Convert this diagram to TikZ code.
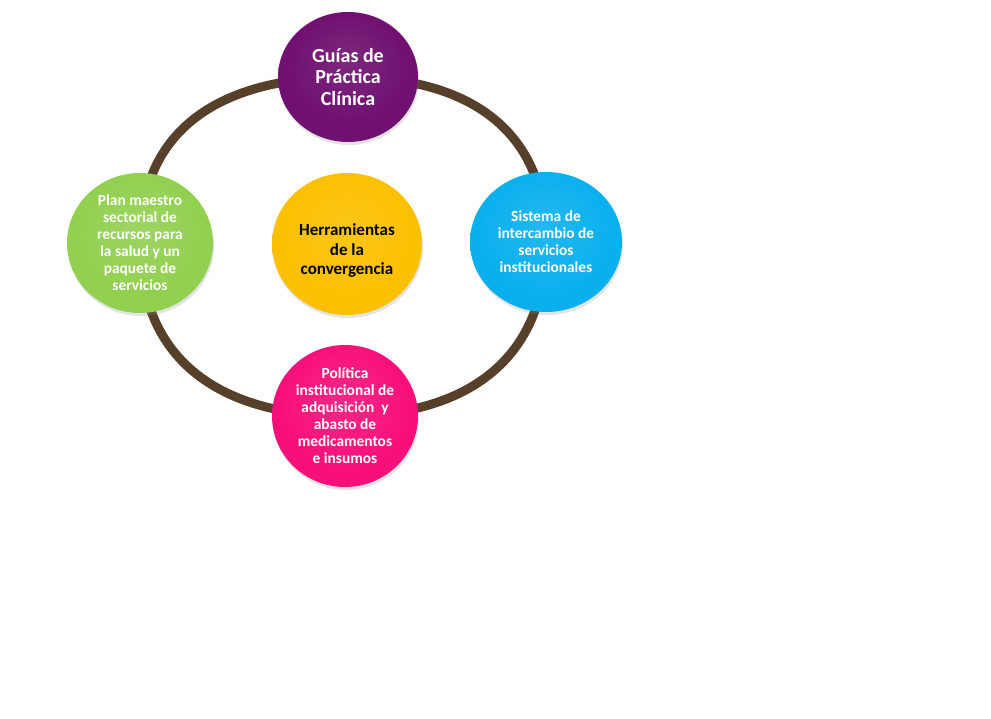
\documentclass[tikz,border=0pt]{standalone}
\usepackage{fontspec}
\setmainfont{Carlito}
\usetikzlibrary{shapes.geometric,shadows,backgrounds}
\definecolor{cpurple}{HTML}{701070}
\definecolor{cgreen}{HTML}{92D050}
\definecolor{ccyan}{HTML}{0AB0EE}
\definecolor{cpink}{HTML}{F8107A}
\definecolor{cyellow}{HTML}{FBC000}
\definecolor{cring}{HTML}{56402A}
\colorlet{orbcol}{cpurple}
\pgfdeclareradialshading[orbcol]{orb}{\pgfpoint{0bp}{6bp}}{color(0bp)=(orbcol!90!white); color(22bp)=(orbcol); color(40bp)=(orbcol); color(50bp)=(orbcol!85!black)}
\tikzset{
  fillc/.style={/utils/exec={\colorlet{orbcol}{#1}}},
  bubble/.style={ellipse, inner sep=0pt, align=center, text=white,
    shading=orb, drop shadow={opacity=0.22, shadow xshift=1pt, shadow yshift=-3pt}},
  ringline/.style={line width=9pt, draw=cring},
  smalltext/.style={font=\bfseries\fontsize{15.4}{17}\selectfont}
}
\begin{document}
\begin{tikzpicture}[x=1pt,y=1pt]
\useasboundingbox (0,0) rectangle (991,-718);
\node[bubble, fillc=cpurple, minimum width=140pt, minimum height=130pt,
  font=\bfseries\fontsize{20}{21.5}\selectfont] (top) at (348,-77) {Guías de\\Práctica\\Clínica};
\node[bubble, fillc=cgreen, minimum width=146pt, minimum height=140pt, smalltext] (left) at (140,-243)
  {Plan maestro\\sectorial de\\recursos para\\la salud y un\\paquete de\\servicios};
\node[bubble, fillc=ccyan, minimum width=152pt, minimum height=140pt, smalltext] (right) at (546,-242)
  {Sistema de\\intercambio de\\servicios\\institucionales};
\node[bubble, fillc=cpink, minimum width=146pt, minimum height=142pt, smalltext] (bottom) at (345,-416)
  {Política\\institucional de\\adquisición\ \ y\\abasto de\\medicamentos\\e insumos};
\node[bubble, fillc=cyellow, minimum width=150pt, minimum height=142pt, text=black,
  font=\bfseries\fontsize{17}{19.7}\selectfont] (hub) at (347,-244)
  {\rule{0pt}{25pt}Herramientas\\de la\\convergencia};
\begin{scope}[on background layer]
\fill[white] (0,0) rectangle (991,-718);
\draw[ringline] (top.center) to[out=180,in=90,looseness=1.15] (left.center);
\draw[ringline] (top.center) to[out=0,in=90,looseness=1.15] (right.center);
\draw[ringline] (bottom.center) to[out=180,in=270,looseness=1.15] (left.center);
\draw[ringline] (bottom.center) to[out=0,in=270,looseness=1.15] (right.center);
\end{scope}
\end{tikzpicture}
\end{document}
